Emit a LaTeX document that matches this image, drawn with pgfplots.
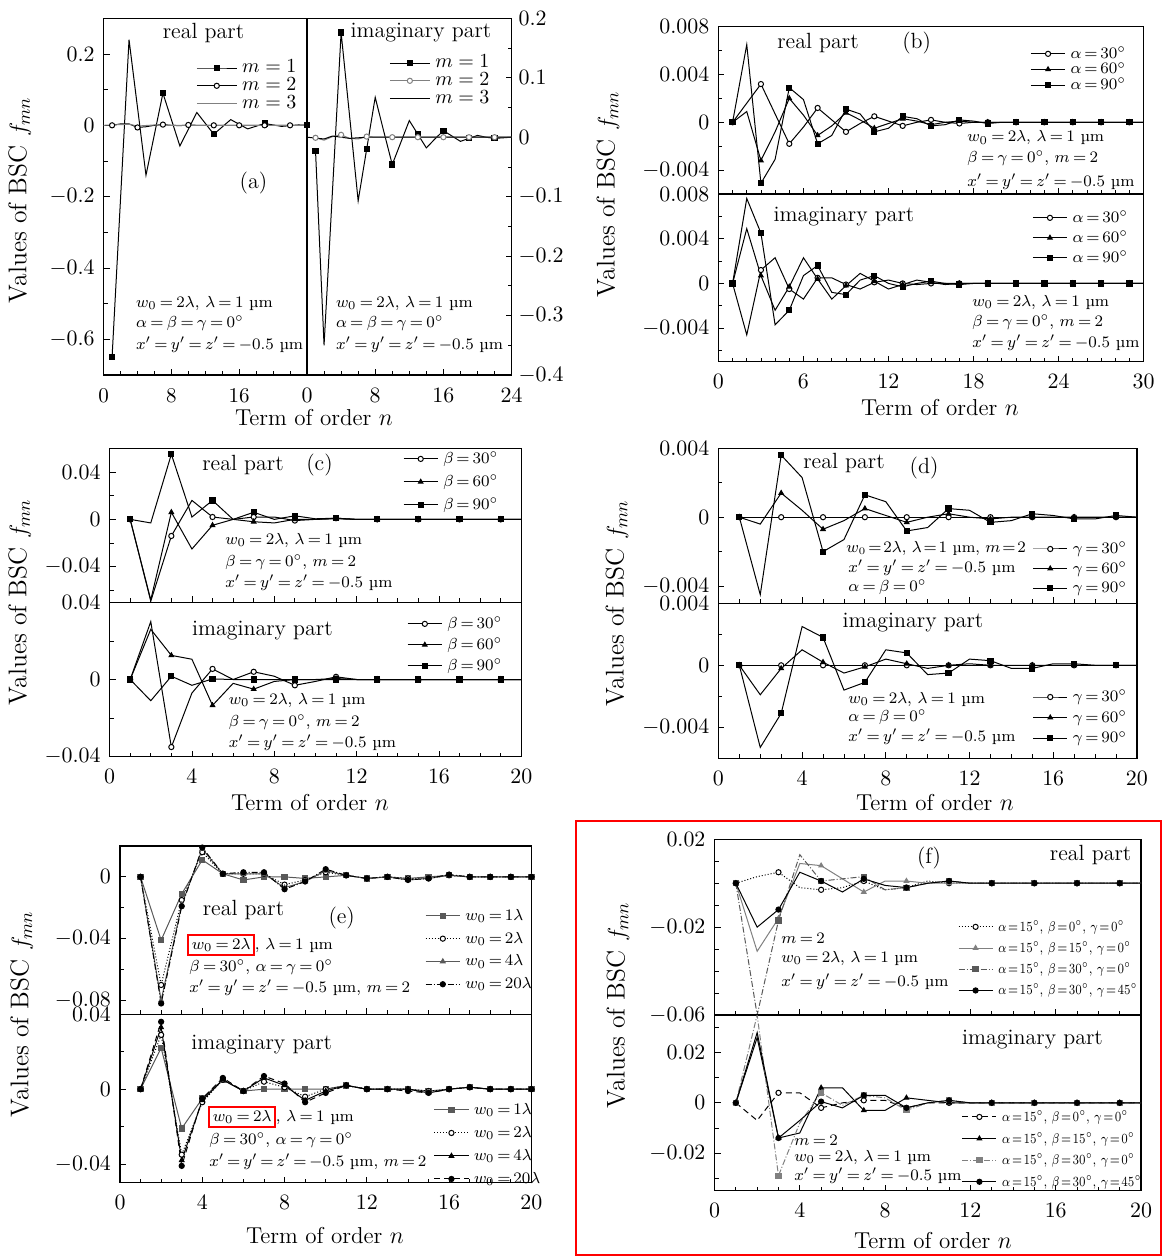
\documentclass[border=0pt]{standalone}
\usepackage{fontspec}
\usepackage{graphicx}
\usepackage{pgfplots}
\pgfplotsset{compat=1.18}
\usepackage{pgfplotstable}

\newcommand\ann{\fontsize{8}{9.5}\selectfont\thickmuskip=3.5mu plus 1mu}
\newcommand\ttl{\fontsize{11}{12}\selectfont}
\newcommand\lab{\fontsize{11.5}{13}\selectfont}
\newcommand\ylab{\fontsize{12.8}{14}\selectfont}
\newcommand\lgd{\fontsize{8.3}{10}\selectfont\thickmuskip=3mu plus 1mu}
\newcommand\lgf{\fontsize{7}{8.5}\selectfont\thickmuskip=2mu plus 1mu\medmuskip=2mu}
\newcommand\sq[1]{\scalebox{0.82}[1]{#1}}
\setlength\fboxrule{1pt}
\setlength\fboxsep{1.2pt}

\pgfplotsset{
  bsc/.style={
    scale only axis, anchor=south west,
    axis line style={line width=0.6pt},
    every tick/.style={black, line width=0.4pt},
    tick align=inside, major tick length=3pt, minor tick length=2pt,
    xtick pos=bottom, ytick pos=left,
    tick label style={font=\fontsize{10.5}{12}\selectfont},
    xticklabel style={yshift=-3pt},
    yticklabel style={xshift=-1pt},
    scaled y ticks=false,
    yticklabel style={/pgf/number format/fixed, /pgf/number format/precision=3},
    every axis plot/.append style={line width=0.5pt, mark size=1.3pt},
    legend cell align=left,
    legend style={draw=none, fill=none, inner sep=0pt, anchor=north west,
      font=\lgd, column sep=2.5pt,
      nodes={inner sep=0pt, text height=5.5pt, text depth=1pt}},
  },
  top/.style={xticklabel=\empty},
  oc/.style={mark=*, mark options={solid, fill=white}},
  tr/.style={mark=triangle*, mark options={solid}},
  sq/.style={mark=square*, mark options={solid}},
  fc/.style={mark=*, mark options={solid}},
}

% ---------------- (b) ----------------
\pgfplotstableread{
n a b c
1 0 0 0
2 0.0016 0.0009 0.0065
3 0.0032 -0.0032 -0.0051
4 0.0007 -0.0008 -0.0031
5 -0.0018 0.0020 0.0029
6 -0.0004 0.0006 0.0019
7 0.0012 -0.0011 -0.0018
8 0.0002 -0.0003 -0.0011
9 -0.0008 0.0008 0.0011
10 -0.0001 0.0002 0.0007
11 0.0005 -0.0005 -0.0008
12 0.0001 -0.0001 -0.0005
13 -0.0003 0.0003 0.0005
14 0 0.0001 0.0003
15 0.0002 -0.0002 -0.0003
16 0 0 -0.0002
17 -0.0001 0.0001 0.0002
18 0 0 0.0001
19 0 0 -0.0001
20 0 0 0
21 0 0 0
22 0 0 0
23 0 0 0
24 0 0 0
25 0 0 0
26 0 0 0
27 0 0 0
28 0 0 0
29 0 0 0
30 0 0 0
}\tbRe
\pgfplotstableread{
n a b c
1 0 0 0
2 -0.0046 0.0049 0.0076
3 0.0012 0.0007 0.0045
4 0.0023 -0.0024 -0.0037
5 -0.0005 -0.0003 -0.0024
6 -0.0014 0.0023 0.0007
7 0.0005 0.0004 0.0016
8 0.0005 -0.0014 -0.0008
9 -0.0001 -0.0002 -0.0010
10 -0.0005 0.0009 0.0003
11 0.0001 0.0002 0.0007
12 0.0003 -0.0005 0
13 0 -0.0001 -0.0003
14 -0.0001 0.0003 0
15 0 0.0001 0.0002
16 0 -0.0001 0
17 0 0 -0.0001
18 0 0 0
19 0 0 0
20 0 0 0
21 0 0 0
22 0 0 0
23 0 0 0
24 0 0 0
25 0 0 0
26 0 0 0
27 0 0 0
28 0 0 0
29 0 0 0
30 0 0 0
}\tbIm
% ---------------- (c) ----------------
\pgfplotstableread{
n a b c
1 0 0 0
2 -0.069 -0.068 -0.003
3 -0.014 0.006 0.055
4 0.016 -0.025 0.002
5 0.002 -0.005 0.016
6 0 0 0
7 0.002 -0.002 0.006
8 0.002 -0.003 0
9 -0.001 0 0.003
10 0 0 0.0005
11 0.001 0.0005 0.001
12 0 0 0
13 0 0 0
14 0 0 0
15 0 0 0
16 0 0 0
17 0 0 0
18 0 0 0
19 0 0 0
20 0 0 0
}\tcRe
\pgfplotstableread{
n a b c
1 0 0 0
2 0.030 0.026 -0.011
3 -0.035 0.0125 0.0017
4 -0.007 0.0105 -0.003
5 0.0055 -0.0134 0.0003
6 0 -0.002 0
7 0.004 -0.005 0
8 0.0017 -0.001 0
9 -0.003 0 0
10 -0.001 0 0
11 0.0014 0.0005 0
12 0 0 0
13 0 0 0
14 0 0 0
15 0 0 0
16 0 0 0
17 0 0 0
18 0 0 0
19 0 0 0
20 0 0 0
}\tcIm
% ---------------- (d) ----------------
\pgfplotstableread{
n a b c
1 0 0 0
2 0 -0.0004 -0.0045
3 0 0.0014 0.0036
4 0 0.0004 0.0023
5 0 -0.0007 -0.0020
6 0 -0.0002 -0.0013
7 0 0.0005 0.0013
8 0 0.0001 0.0009
9 0 -0.0003 -0.0008
10 0 0 -0.0006
11 0 0.0002 0.0005
12 0 0 0.0004
13 0 -0.0001 -0.0003
14 0 0 -0.0002
15 0 0 0.0002
16 0 0 0.0001
17 0 0 -0.0001
18 0 0 -0.0001
19 0 0 0.0001
20 0 0 0
}\tdRe
\pgfplotstableread{
n a b c
1 0 0 0
2 0 -0.0019 -0.0053
3 0 -0.0002 -0.0031
4 0 0.0010 0.0025
5 0 0.0002 0.0018
6 0 -0.0005 -0.0016
7 0 -0.0001 -0.0011
8 0 0.0004 0.0010
9 0 0.0001 0.0008
10 0 -0.0002 -0.0006
11 0 0 -0.0005
12 0 0.0001 0.0004
13 0 0 0.0003
14 0 0 -0.0002
15 0 0 -0.0002
16 0 0 0.0001
17 0 0 0.0001
18 0 0 0
19 0 0 0
20 0 0 0
}\tdIm
% ---------------- (e) ----------------
\pgfplotstableread{
n a b c d
1 0 0 0 0
2 -0.041 -0.070 -0.080 -0.082
3 -0.011 -0.015 -0.018 -0.019
4 0.011 0.016 0.018 0.019
5 0.002 0.002 0.002 0.002
6 -0.002 0.002 0.002 0.003
7 0 0.002 0.002 0.003
8 0 -0.005 -0.007 -0.008
9 -0.001 -0.002 -0.003 -0.003
10 0 0.003 0.004 0.005
11 0.001 0.001 0.001 0.001
12 -0.001 -0.001 -0.001 -0.001
13 0 0 0 0
14 -0.001 -0.001 -0.002 -0.002
15 0 -0.001 -0.001 -0.001
16 0.001 0.001 0.001 0.0015
17 0 0 0 0
18 0 0 0 0
19 0 0 0 0
20 0 0 0 0
}\teRe
\pgfplotstableread{
n a b c d
1 0 0 0 0
2 0.022 0.029 0.033 0.036
3 -0.021 -0.035 -0.038 -0.041
4 -0.005 -0.007 -0.006 -0.005
5 0.005 0.005 0.005 0.006
6 -0.001 -0.001 -0.001 -0.001
7 0 0.004 0.006 0.007
8 0 0.001 0.002 0.003
9 0 -0.004 -0.006 -0.007
10 0 0 -0.001 -0.002
11 0.002 0.002 0.002 0.002
12 0 0 0 0
13 0 0 0 0
14 0 0 0 -0.001
15 -0.001 -0.001 -0.002 -0.002
16 0 0 0 0
17 0.001 0.001 0.001 0.001
18 0 0 0 0
19 0 0 0 0
20 0 0 0 0
}\teIm
% ---------------- (f) ----------------
\pgfplotstableread{
n a b c d
1 0 0 0 0
2 0.003 -0.031 -0.060 -0.020
3 0.005 -0.016 -0.017 -0.012
4 -0.002 0.009 0.013 0.005
5 -0.003 0.008 0.001 0.001
6 -0.002 0.002 0.002 -0.004
7 0.001 -0.004 0.003 0.002
8 -0.003 0.001 -0.003 -0.001
9 -0.002 0.001 -0.002 -0.002
10 0.001 0 0 0
11 0 0 0.001 0.001
12 0 0 0 0
13 0 0 0 0
14 0 0 0 0
15 0 0 0 0
16 0 0 0 0
17 0 0 0 0
18 0 0 0 0
19 0 0 0 0
20 0 0 0 0
}\tfRe
\pgfplotstableread{
n a b c d
1 0 0 0 0
2 -0.007 0.026 0.035 0.028
3 0.004 -0.014 -0.029 -0.014
4 0.004 -0.012 -0.008 -0.007
5 -0.002 0.006 0.004 0.0005
6 0 0.006 -0.001 -0.002
7 0.001 -0.003 0.003 0.003
8 0.001 -0.003 0.002 0.003
9 -0.002 0.002 -0.003 -0.002
10 0 0.001 0 0
11 0 0 0.001 0.001
12 0 0 0 0
13 0 0 0 0
14 0 0 0 0
15 0 0 0 0
16 0 0 0 0
17 0 0 0 0
18 0 0 0 0
19 0 0 0 0
20 0 0 0 0
}\tfIm

\begin{document}
\begin{tikzpicture}
\useasboundingbox (0pt,0pt) rectangle (581.5pt,-628pt);

% ===== (a) left: real part =====
\begin{axis}[bsc, at={(51.8pt,-187.5pt)}, width=101.7pt, height=178.35pt,
  xmin=0, xmax=24, ymin=-0.7, ymax=0.3,
  xtick={0,8,16,24}, xticklabels={0,8,16,{}}, minor x tick num=3,
  ytick={-0.6,-0.4,-0.2,0,0.2}, minor ytick={-0.7,-0.5,-0.3,-0.1,0.1,0.3},
  legend style={at={(0.454,0.88)}, font=\fontsize{10}{11}\selectfont, row sep=2.4pt},
  legend image code/.code={\draw[mark repeat=2,mark phase=2,#1] plot coordinates {(0cm,0cm) (0.35cm,0cm) (0.7cm,0cm)};}]
\addplot[black, sq, mark repeat=3] coordinates {(1,-0.65)(3,0.24)(5,-0.14)(7,0.09)(9,-0.058)(11,0.036)(13,-0.025)(15,0.016)(17,-0.01)(19,0.005)(21,-0.003)(23,0.001)(24,0)};
\addlegendentry{$m=1$}
\addplot[black, oc, mark repeat=3] coordinates {(1,0)(2,0.004)(3,0.004)(4,-0.006)(5,-0.004)(6,0)(7,0.002)(8,0)(9,-0.001)(10,0.001)(11,0)(12,0)(13,0)(14,0)(15,0)(16,0)(17,0)(18,0)(19,0)(20,0)(21,0)(22,0)(23,0)(24,0)};
\addlegendentry{$m=2$}
\addplot[gray] coordinates {(0,0)(2,0.002)(3,0.003)(4,-0.002)(6,0.001)(8,0)(24,0)};
\addlegendentry{$m=3$}
\end{axis}

% ===== (a) right: imaginary part =====
\begin{axis}[bsc, at={(153.5pt,-187.5pt)}, width=102.3pt, height=178.35pt,
  xmin=0, xmax=24, ymin=-0.4, ymax=0.2,
  xtick={0,8,16,24}, minor x tick num=3,
  ytick pos=right, yticklabel pos=right, yticklabel style={xshift=1pt},
  ytick={-0.4,-0.3,-0.2,-0.1,0,0.1,0.2}, minor y tick num=1,
  legend style={at={(0.401,0.894)}, font=\fontsize{10}{11}\selectfont, row sep=2.4pt},
  legend image code/.code={\draw[mark repeat=2,mark phase=2,#1] plot coordinates {(0cm,0cm) (0.35cm,0cm) (0.7cm,0cm)};}]
\addplot[black, sq, mark repeat=3] coordinates {(1,-0.023)(2,-0.35)(3,-0.087)(4,0.176)(5,0.035)(6,-0.107)(7,-0.02)(8,0.067)(9,0.01)(10,-0.046)(11,-0.009)(12,0.028)(13,0.005)(14,-0.018)(15,-0.003)(16,0.011)(17,0.002)(18,-0.007)(19,-0.002)(20,0.003)(21,0)(22,-0.002)(23,-0.001)(24,0)};
\addlegendentry{$m=1$}
\addplot[gray, oc, mark repeat=3] coordinates {(1,-0.001)(2,-0.005)(3,0.001)(4,0.004)(5,-0.002)(6,-0.003)(7,0.001)(8,0)(9,0)(10,0)(11,0)(12,0)(13,0)(14,0)(15,0)(16,0)(17,0)(18,0)(19,0)(20,0)(21,0)(22,0)(23,0)(24,0)};
\addlegendentry{$m=2$}
\addplot[black] coordinates {(0,0)(2,-0.003)(3,0.002)(5,-0.002)(7,0)(24,0)};
\addlegendentry{$m=3$}
\end{axis}

% ===== (b) real =====
\begin{axis}[bsc, top, at={(359.2pt,-97pt)}, width=212.6pt, height=83.65pt,
  xmin=0, xmax=30, ymin=-0.006, ymax=0.008,
  xtick={0,6,...,30}, minor x tick num=5,
  ytick={-0.004,0,0.004,0.008}, minor ytick={-0.006,-0.002,0.002,0.006},
  legend style={at={(0.733,0.879)}, row sep=1.3pt}]
\addplot[black, oc, mark repeat=2] table[x=n,y=a]{\tbRe}; \addlegendentry{$\alpha=30^\circ$}
\addplot[black, tr, mark repeat=2] table[x=n,y=b]{\tbRe}; \addlegendentry{$\alpha=60^\circ$}
\addplot[black, sq, mark repeat=2] table[x=n,y=c]{\tbRe}; \addlegendentry{$\alpha=90^\circ$}
\end{axis}
% ===== (b) imaginary =====
\begin{axis}[bsc, at={(359.2pt,-180.85pt)}, width=212.6pt, height=83.85pt,
  xmin=0, xmax=30, ymin=-0.007, ymax=0.008,
  xtick={0,6,...,30}, minor x tick num=5,
  ytick={-0.004,0,0.004,0.008}, minor ytick={-0.006,-0.002,0.002,0.006},
  legend style={at={(0.7375,0.899)}, row sep=3.5pt}]
\addplot[black, oc, mark repeat=2] table[x=n,y=a]{\tbIm}; \addlegendentry{$\alpha=30^\circ$}
\addplot[black, tr, mark repeat=2] table[x=n,y=b]{\tbIm}; \addlegendentry{$\alpha=60^\circ$}
\addplot[black, sq, mark repeat=2] table[x=n,y=c]{\tbIm}; \addlegendentry{$\alpha=90^\circ$}
\end{axis}

% ===== (c) real =====
\begin{axis}[bsc, top, at={(54.8pt,-301.15pt)}, width=205.85pt, height=77pt,
  xmin=0, xmax=20, ymin=-0.07, ymax=0.06,
  xtick={0,4,...,20}, minor x tick num=3,
  ytick={-0.04,0,0.04}, minor ytick={-0.06,-0.02,0.02,0.06},
  legend style={at={(0.712,0.976)}, row sep=5pt}]
\addplot[black, oc, mark repeat=2] table[x=n,y=a]{\tcRe}; \addlegendentry{$\beta=30^\circ$}
\addplot[black, tr, mark repeat=2] table[x=n,y=b]{\tcRe}; \addlegendentry{$\beta=60^\circ$}
\addplot[black, sq, mark repeat=2] table[x=n,y=c]{\tcRe}; \addlegendentry{$\beta=90^\circ$}
\end{axis}
% ===== (c) imaginary =====
\begin{axis}[bsc, at={(54.8pt,-378.35pt)}, width=205.85pt, height=77.2pt,
  xmin=0, xmax=20, ymin=-0.04, ymax=0.04,
  xtick={0,4,...,20}, minor x tick num=3,
  ytick={-0.04,0,0.04}, minor ytick={-0.02,0.02},
  legend style={at={(0.722,0.905)}, row sep=4pt}]
\addplot[black, oc, mark repeat=2] table[x=n,y=a]{\tcIm}; \addlegendentry{$\beta=30^\circ$}
\addplot[black, tr, mark repeat=2] table[x=n,y=b]{\tcIm}; \addlegendentry{$\beta=60^\circ$}
\addplot[black, sq, mark repeat=2] table[x=n,y=c]{\tcIm}; \addlegendentry{$\beta=90^\circ$}
\end{axis}

% ===== (d) real =====
\begin{axis}[bsc, top, at={(359.2pt,-301.65pt)}, width=209.25pt, height=77.5pt,
  xmin=0, xmax=20, ymin=-0.005, ymax=0.004,
  xtick={0,4,...,20}, minor x tick num=3,
  ytick={-0.004,0,0.004}, minor ytick={-0.002,0.002},
  legend style={at={(0.75,0.395)}, row sep=3.3pt}]
\addplot[black, oc, mark repeat=2] table[x=n,y=a]{\tdRe}; \addlegendentry{$\gamma=30^\circ$}
\addplot[black, tr, mark repeat=2] table[x=n,y=b]{\tdRe}; \addlegendentry{$\gamma=60^\circ$}
\addplot[black, sq, mark repeat=2] table[x=n,y=c]{\tdRe}; \addlegendentry{$\gamma=90^\circ$}
\end{axis}
% ===== (d) imaginary =====
\begin{axis}[bsc, at={(359.2pt,-379.15pt)}, width=209.25pt, height=77.5pt,
  xmin=0, xmax=20, ymin=-0.006, ymax=0.004,
  xtick={0,4,...,20}, minor x tick num=3,
  ytick={-0.004,0,0.004}, minor ytick={-0.006,-0.002,0.002},
  legend style={at={(0.75,0.44)}, row sep=3.8pt}]
\addplot[black, oc, mark repeat=2] table[x=n,y=a]{\tdIm}; \addlegendentry{$\gamma=30^\circ$}
\addplot[black, tr, mark repeat=2] table[x=n,y=b]{\tdIm}; \addlegendentry{$\gamma=60^\circ$}
\addplot[black, sq, mark repeat=2] table[x=n,y=c]{\tdIm}; \addlegendentry{$\gamma=90^\circ$}
\end{axis}

% ===== (e) real =====
\begin{axis}[bsc, top, at={(60pt,-507.15pt)}, width=205.7pt, height=84.15pt,
  xmin=0, xmax=20, ymin=-0.089, ymax=0.02,
  xtick={0,4,...,20}, minor x tick num=3,
  ytick={-0.08,-0.04,0}, minor ytick={-0.06,-0.02,0.02},
  legend style={at={(0.741,0.626)}, row sep=4.9pt}]
\addplot[gray!70!black, sq] table[x=n,y=a]{\teRe}; \addlegendentry{$w_0=1\lambda$}
\addplot[black, densely dotted, oc] table[x=n,y=b]{\teRe}; \addlegendentry{$w_0=2\lambda$}
\addplot[gray!70!black, tr] table[x=n,y=c]{\teRe}; \addlegendentry{$w_0=4\lambda$}
\addplot[black, densely dashdotted, fc] table[x=n,y=d]{\teRe}; \addlegendentry{$w_0=20\lambda$}
\end{axis}
% ===== (e) imaginary =====
\begin{axis}[bsc, at={(60pt,-591.35pt)}, width=205.7pt, height=84.2pt,
  xmin=0, xmax=20, ymin=-0.05, ymax=0.04,
  xtick={0,4,...,20}, minor x tick num=3,
  ytick={-0.04,0,0.04}, minor ytick={-0.02,0.02},
  legend style={at={(0.762,0.473)}, row sep=5pt}]
\addplot[gray!70!black, sq] table[x=n,y=a]{\teIm}; \addlegendentry{$w_0=1\lambda$}
\addplot[black, densely dotted, oc] table[x=n,y=b]{\teIm}; \addlegendentry{$w_0=2\lambda$}
\addplot[black, tr] table[x=n,y=c]{\teIm}; \addlegendentry{$w_0=4\lambda$}
\addplot[black, densely dashed, fc] table[x=n,y=d]{\teIm}; \addlegendentry{$w_0=20\lambda$}
\end{axis}

% ===== (f) real =====
\begin{axis}[bsc, top, at={(357.25pt,-507.5pt)}, width=213.25pt, height=87.85pt,
  xmin=0, xmax=20, ymin=-0.06, ymax=0.02,
  xtick={0,4,...,20}, minor x tick num=3,
  ytick={-0.06,-0.02,0.02}, minor ytick={-0.05,-0.04,-0.03,-0.01,0,0.01},
  legend style={at={(0.570,0.541)}, row sep=4.1pt, font=\lgf}]
\addplot[black, densely dotted, oc, mark repeat=2] table[x=n,y=a]{\tfRe}; \addlegendentry{\sq{$\alpha=15^\circ$, $\beta=0^\circ$, $\gamma=0^\circ$}}
\addplot[gray, tr, mark repeat=2] table[x=n,y=b]{\tfRe}; \addlegendentry{\sq{$\alpha=15^\circ$, $\beta=15^\circ$, $\gamma=0^\circ$}}
\addplot[gray!70!black, densely dashdotted, sq, mark repeat=2] table[x=n,y=c]{\tfRe}; \addlegendentry{\sq{$\alpha=15^\circ$, $\beta=30^\circ$, $\gamma=0^\circ$}}
\addplot[black, fc, mark repeat=2] table[x=n,y=d]{\tfRe}; \addlegendentry{\sq{$\alpha=15^\circ$, $\beta=30^\circ$, $\gamma=45^\circ$}}
\end{axis}
% ===== (f) imaginary =====
\begin{axis}[bsc, at={(357.25pt,-595.35pt)}, width=213.25pt, height=87.85pt,
  xmin=0, xmax=20, ymin=-0.035, ymax=0.035,
  xtick={0,4,...,20}, minor x tick num=3,
  ytick={-0.02,0,0.02}, minor ytick={-0.03,-0.01,0.01,0.03},
  legend style={at={(0.579,0.459)}, row sep=4.3pt, font=\lgf}]
\addplot[black, densely dashed, oc, mark repeat=2] table[x=n,y=a]{\tfIm}; \addlegendentry{\sq{$\alpha=15^\circ$, $\beta=0^\circ$, $\gamma=0^\circ$}}
\addplot[black, tr, mark repeat=2] table[x=n,y=b]{\tfIm}; \addlegendentry{\sq{$\alpha=15^\circ$, $\beta=15^\circ$, $\gamma=0^\circ$}}
\addplot[gray, densely dashdotted, sq, mark repeat=2] table[x=n,y=c]{\tfIm}; \addlegendentry{\sq{$\alpha=15^\circ$, $\beta=30^\circ$, $\gamma=0^\circ$}}
\addplot[black, fc, mark repeat=2] table[x=n,y=d]{\tfIm}; \addlegendentry{\sq{$\alpha=15^\circ$, $\beta=30^\circ$, $\gamma=45^\circ$}}
\end{axis}

% ================= texts (pixel coordinates) =================
\begin{scope}[x=0.5pt, y=-0.5pt, every node/.append style={inner sep=0pt}]
% axis labels
\foreach \cx/\cy in {19.6/200, 608/194, 19.6/602, 617/603, 21.8/1014, 618/1005}
  \node[rotate=90, font=\ylab] at (\cx,\cy) {Values of BSC $f_{mn}$};
\foreach \cx/\cy in {314/418, 940/408, 310/803, 935/803, 325/1236, 933/1241}
  \node[font=\lab] at (\cx,\cy) {Term of order $n$};

% (a)
\node[font=\ttl] at (203.5,33) {real part};
\node[font=\ttl] at (253.5,183) {(a)};
\node[font=\ttl] at (421,33) {imaginary part};
\foreach \cx in {135.7, 335.6}{
  \node[font=\ann, anchor=west] at (\cx,303) {$w_0=2\lambda$, $\lambda=1$ µm};
  \node[font=\ann, anchor=west] at (\cx,323) {$\alpha=\beta=\gamma=0^\circ$};
  \node[font=\ann, anchor=west] at (\cx,345) {$x'=y'=z'=-0.5$ µm};
}
% (b)
\node[font=\ttl] at (818,43) {real part};
\node[font=\ttl] at (916.7,43) {(b)};
\node[font=\ann, anchor=west] at (967,138) {$w_0=2\lambda$, $\lambda=1$ µm};
\node[font=\ann, anchor=west] at (967,158) {$\beta=\gamma=0^\circ$, $m=2$};
\node[font=\ann, anchor=west] at (967,182) {$x'=y'=z'=-0.5$ µm};
\node[font=\ttl] at (844,217) {imaginary part};
\node[font=\ann, anchor=west] at (972,302) {$w_0=2\lambda$, $\lambda=1$ µm};
\node[font=\ann, anchor=west] at (972,322) {$\beta=\gamma=0^\circ$, $m=2$};
\node[font=\ann, anchor=west] at (972,343) {$x'=y'=z'=-0.5$ µm};
% (c)
\node[font=\ttl] at (243,465) {real part};
\node[font=\ttl] at (319.5,465) {(c)};
\node[font=\ann, anchor=west] at (225,540) {$w_0=2\lambda$, $\lambda=1$ µm};
\node[font=\ann, anchor=west] at (225,562) {$\beta=\gamma=0^\circ$, $m=2$};
\node[font=\ann, anchor=west] at (225,583) {$x'=y'=z'=-0.5$ µm};
\node[font=\ttl] at (262.4,631) {imaginary part};
\node[font=\ann, anchor=west] at (228.5,700) {$w_0=2\lambda$, $\lambda=1$ µm};
\node[font=\ann, anchor=west] at (228.5,722) {$\beta=\gamma=0^\circ$, $m=2$};
\node[font=\ann, anchor=west] at (228.5,743) {$x'=y'=z'=-0.5$ µm};
% (d)
\node[font=\ttl] at (844,463) {real part};
\node[font=\ttl] at (924,468) {(d)};
\node[font=\fontsize{7.7}{9}\selectfont, anchor=west] at (846,548) {\thickmuskip=2mu $w_0=2\lambda$, $\lambda=1$ µm, $m=2$};
\node[font=\ann, anchor=west] at (848,568) {$x'=y'=z'=-0.5$ µm};
\node[font=\ann, anchor=west] at (848,587) {$\alpha=\beta=0^\circ$};
\node[font=\ttl] at (913,623) {imaginary part};
\node[font=\ann, anchor=west] at (848,699) {$w_0=2\lambda$, $\lambda=1$ µm};
\node[font=\ann, anchor=west] at (848,717) {$\alpha=\beta=0^\circ$};
\node[font=\ann, anchor=west] at (848,737) {$x'=y'=z'=-0.5$ µm};
% (e)
\node[font=\ttl] at (243.5,910) {real part};
\node[font=\ttl] at (341.7,918) {(e)};
\node[font=\ann, anchor=west] at (187,945) {\fcolorbox{red}{white}{$w_0=2\lambda$}, $\lambda=1$ µm};
\node[font=\ann, anchor=west] at (189,967) {$\beta=30^\circ$, $\alpha=\gamma=0^\circ$};
\node[font=\ann, anchor=west] at (189,988) {$x'=y'=z'=-0.5$ µm, $m=2$};
\node[font=\ttl] at (261.7,1045) {imaginary part};
\node[font=\ann, anchor=west] at (208,1117) {\fcolorbox{red}{white}{$w_0=2\lambda$}, $\lambda=1$ µm};
\node[font=\ann, anchor=west] at (209,1140) {$\beta=30^\circ$, $\alpha=\gamma=0^\circ$};
\node[font=\ann, anchor=west] at (209,1162) {\thickmuskip=3mu $x'=y'=z'=-0.5$ µm, $m=2$};
% (f)
\node[font=\ttl] at (929,858) {(f)};
\node[font=\ttl] at (1090.6,855) {real part};
\node[font=\ann, anchor=west] at (781,938) {$m=2$};
\node[font=\ann, anchor=west] at (781,958) {$w_0=2\lambda$, $\lambda=1$ µm};
\node[font=\ann, anchor=west] at (781,982) {$x'=y'=z'=-0.5$ µm};
\node[font=\ttl] at (1032.5,1040) {imaginary part};
\node[font=\ann, anchor=west] at (794,1140) {$m=2$};
\node[font=\ann, anchor=west] at (794,1157) {$w_0=2\lambda$, $\lambda=1$ µm};
\node[font=\ann, anchor=west] at (794,1176) {$x'=y'=z'=-0.5$ µm};
% red frame round (f)
\draw[red, line width=1pt] (576,821) rectangle (1161,1255);
\end{scope}
\end{tikzpicture}
\end{document}
